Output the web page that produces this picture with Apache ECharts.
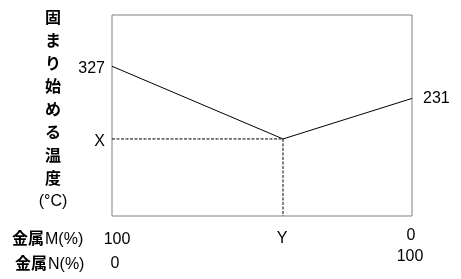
<!DOCTYPE html>
<html><head><meta charset="utf-8">
<script src="https://cdn.jsdelivr.net/npm/echarts@6/dist/echarts.min.js"></script>
<style>html,body{margin:0;padding:0;background:#fff}#c{width:461px;height:279px}</style>
</head><body><div id="c"></div>
<script>
// Composition of metal N (%) and the temperature where solidification begins
const compositionN = [0, 57, 100];
const startTemp = [327, 110, 231];
const pointLabels = ['327', 'X', '231'];
const xTickTopRow = ['100', 'Y', '0'];
const xTickBottomRow = ['0', '', '100'];
const axisTitle = ['固', 'ま', 'り', '始', 'め', 'る', '温', '度'];
const axisUnit = '(°C)';
const rowTitles = ['金属M(%)', '金属N(%)'];
const tempMin = -120, tempMax = 480;

const FONT = '"Liberation Sans", "Noto Sans CJK JP", sans-serif';
const FS = '16px ';
const chart = echarts.init(document.getElementById('c'), null, {renderer: 'canvas'});

const liquidus = compositionN.map((x, i) => [x, startTemp[i]]);
const guide = [[compositionN[0], startTemp[1]], [compositionN[1], startTemp[1]], [compositionN[1], tempMin]];

chart.setOption({
  animation: false,
  grid: {left: 112, right: 49, top: 15, bottom: 63, show: true, borderColor: '#808080', borderWidth: 1},
  xAxis: {type: 'value', min: 0, max: 100, axisLine: {show: false}, axisTick: {show: false}, splitLine: {show: false}, axisLabel: {show: false}},
  yAxis: {type: 'value', min: tempMin, max: tempMax, axisLine: {show: false}, axisTick: {show: false}, splitLine: {show: false}, axisLabel: {show: false}},
  series: [
    {type: 'line', data: liquidus, symbol: 'none', lineStyle: {color: '#000', width: 1}, z: 3},
    {type: 'line', data: guide, symbol: 'none', lineStyle: {color: '#000', width: 1, type: [3, 1.5]}, z: 2}
  ]
});

const px = (x, y) => chart.convertToPixel({gridIndex: 0}, [x, y]);
const txt = (text, x, y, align, extra) => ({
  type: 'text', x: x, y: y,
  style: Object.assign({text: text, fill: '#000', font: FS + FONT, align: align, verticalAlign: 'middle'}, extra || {})
});
const g = [];
// point labels
const p0 = px(compositionN[0], startTemp[0]);
g.push(txt(pointLabels[0], p0[0] - 7, p0[1] + 2, 'right'));
const p2 = px(compositionN[2], startTemp[2]);
g.push(txt(pointLabels[2], p2[0] + 11, p2[1], 'left'));
const pX = px(compositionN[0], startTemp[1]);
g.push(txt(pointLabels[1], pX[0] - 7, pX[1] + 3, 'right'));
// x tick labels
const base = px(0, tempMin)[1];
const tl = px(compositionN[0], tempMin)[0];
g.push(txt(xTickTopRow[0], tl + 5, base + 24, 'center'));
g.push(txt(xTickBottomRow[0], tl + 3, base + 47.5, 'center'));
const tm = px(compositionN[1], tempMin)[0];
g.push(txt(xTickTopRow[1], tm - 1, base + 23, 'center'));
const tr = px(compositionN[2], tempMin)[0];
g.push(txt(xTickTopRow[2], tr - 1, base + 20, 'center'));
g.push(txt(xTickBottomRow[2], tr - 2, base + 40.5, 'center'));
// row titles
const rich = {b: {font: 'bold ' + FS + FONT, fill: '#000'}, n: {font: FS + FONT, fill: '#000', padding: [0, 0, 0, 1]}};
g.push({type: 'text', x: 12, y: base + 24, style: {text: '{b|金属}{n|' + rowTitles[0].slice(2) + '}', align: 'left', verticalAlign: 'middle', rich: rich}});
g.push({type: 'text', x: 15, y: base + 49, style: {text: '{b|金属}{n|' + rowTitles[1].slice(2) + '}', align: 'left', verticalAlign: 'middle', rich: rich}});
// vertical axis title
axisTitle.forEach((ch, i) => {
  g.push(txt(ch, 53, 18.5 + i * 23, 'center', {font: 'bold ' + FS + FONT}));
});
g.push(txt(axisUnit, 53, 18.5 + axisTitle.length * 23 - 1, 'center'));
chart.setOption({graphic: g});
</script></body></html>
